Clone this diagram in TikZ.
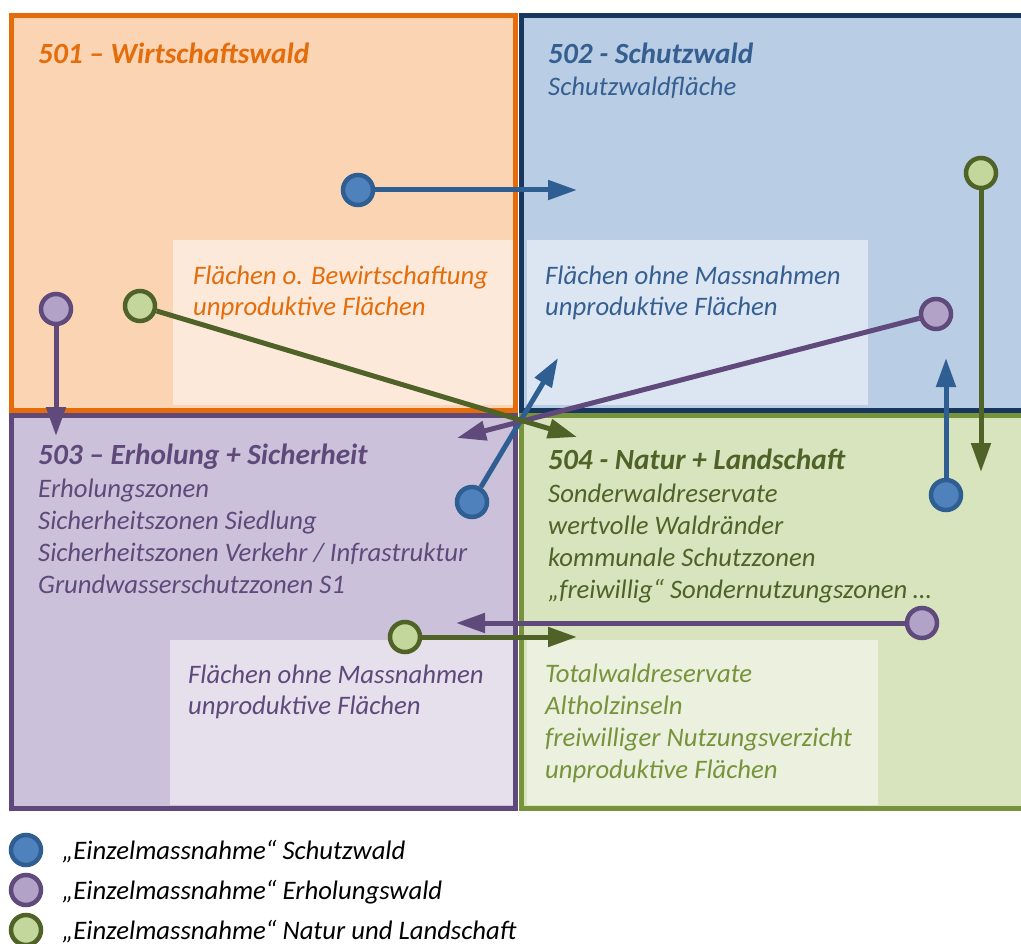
\documentclass[tikz,border=0pt]{standalone}
\usepackage{fontspec}
\setmainfont{Carlito}
\usetikzlibrary{arrows.meta}

\definecolor{orangebord}{RGB}{228,108,10}
\definecolor{orangefond}{RGB}{251,212,180}
\definecolor{bleubord}{RGB}{23,55,94}
\definecolor{bleufond}{RGB}{185,205,229}
\definecolor{bleutexte}{RGB}{54,95,145}
\definecolor{violetbord}{RGB}{95,73,122}
\definecolor{violetfond}{RGB}{204,193,218}
\definecolor{vertbord}{RGB}{119,147,60}
\definecolor{vertfond}{RGB}{215,228,189}
\definecolor{verttexte}{RGB}{79,98,40}
\definecolor{bleutrait}{RGB}{47,94,146}
\definecolor{bleupoint}{RGB}{79,129,189}
\definecolor{violettrait}{RGB}{96,74,123}
\definecolor{violetpoint}{RGB}{179,162,199}
\definecolor{verttrait}{RGB}{79,98,40}
\definecolor{vertpoint}{RGB}{195,214,155}

\begin{document}
\begin{tikzpicture}[x=1pt, y=-1pt]
		% STYLES
		\tikzstyle{cadre} = [line width=5pt]
		\tikzstyle{fondclair} = [fill=white, fill opacity=0.5, draw=none]
		\tikzstyle{titre} = [anchor=base west, inner sep=0pt, font=\fontsize{29.3}{32}\selectfont\bfseries\itshape]
		\tikzstyle{texte} = [anchor=base west, inner sep=0pt, font=\fontsize{26.7}{32}\selectfont\itshape]
		\tikzstyle{point} = [circle, inner sep=0pt, minimum size=30pt, line width=4.5pt]
		\tikzstyle{pointbleu} = [point, draw=bleutrait, fill=bleupoint]
		\tikzstyle{pointviolet} = [point, draw=violettrait, fill=violetpoint]
		\tikzstyle{pointvert} = [point, draw=verttrait, fill=vertpoint]
		\tikzstyle{fleche} = [line width=5pt, -{Triangle[length=29pt,width=19pt]}]

		\useasboundingbox (0,0) rectangle (1021,944);

		% FOND
		\fill[white] (0,0) rectangle (1021,944);

		% ZONES
		\draw[cadre, draw=orangebord, fill=orangefond] (11,16) rectangle (515,410);
		\draw[cadre, draw=bleubord, fill=bleufond] (521,16) rectangle (1025,410);
		\draw[cadre, draw=violetbord, fill=violetfond] (11,415) rectangle (515,808);
		\draw[cadre, draw=vertbord, fill=vertfond] (521,415) rectangle (1025,808);

		% ZONES CLAIRES
		\path[fondclair] (173,240) rectangle (513,405);
		\path[fondclair] (527,240) rectangle (868,405);
		\path[fondclair] (170,640) rectangle (513,805);
		\path[fondclair] (527,640) rectangle (878,805);

		% TEXTES 501
		\node[titre, text=orangebord] (t501) at (38,64) {501 – Wirtschaftswald};
		\node[texte, text=orangebord] (f501a) at (193,285) {Flächen o. Bewirtschaftung};
		\node[texte, text=orangebord] (f501b) at (193,316) {unproduktive Flächen};

		% TEXTES 502
		\node[titre, text=bleutexte] (t502) at (548,64) {502 - Schutzwald};
		\node[texte, text=bleutexte] (s502) at (548,96) {Schutzwaldfläche};
		\node[texte, text=bleutexte] (f502a) at (545,285) {Flächen ohne Massnahmen};
		\node[texte, text=bleutexte] (f502b) at (545,316) {unproduktive Flächen};

		% TEXTES 503
		\node[titre, text=violetbord] (t503) at (38,464) {503 – Erholung + Sicherheit};
		\foreach \t [count=\i from 0] in {Erholungszonen, Sicherheitszonen Siedlung,
				Sicherheitszonen Verkehr / Infrastruktur, Grundwasserschutzzonen S1}
			\node[texte, text=violetbord] (l503-\i) at (38,497+32*\i) {\t};
		\node[texte, text=violetbord] (f503a) at (188,683) {Flächen ohne Massnahmen};
		\node[texte, text=violetbord] (f503b) at (188,714) {unproduktive Flächen};

		% TEXTES 504
		\node[titre, text=verttexte] (t504) at (548,469) {504 - Natur + Landschaft};
		\foreach \t [count=\i from 0] in {Sonderwaldreservate, wertvolle Waldränder,
				kommunale Schutzzonen, „freiwillig“ Sondernutzungszonen …}
			\node[texte, text=verttexte] (l504-\i) at (548,502+32.3*\i) {\t};
		\foreach \t [count=\i from 0] in {Totalwaldreservate, Altholzinseln,
				freiwilliger Nutzungsverzicht, unproduktive Flächen}
			\node[texte, text=vertbord] (f504-\i) at (545,682+32*\i) {\t};

		% POINTS + FLECHES
		\node[pointbleu] (b1) at (358,190) {};
		\node[pointbleu] (b2) at (472,502) {};
		\node[pointbleu] (b3) at (946,495) {};
		\node[pointviolet] (v1) at (56,309) {};
		\node[pointviolet] (v2) at (936,314) {};
		\node[pointviolet] (v3) at (922,623) {};
		\node[pointvert] (g1) at (140,306) {};
		\node[pointvert] (g2) at (981,173) {};
		\node[pointvert] (g3) at (405,637) {};

		\coordinate (b1fin) at (577,190);
		\coordinate (b2fin) at (558,358);
		\coordinate (b3fin) at (946,358);
		\coordinate (v1fin) at (56,436);
		\coordinate (v2fin) at (457,438);
		\coordinate (v3fin) at (456,623);
		\coordinate (g1fin) at (577,437);
		\coordinate (g2fin) at (981,472);
		\coordinate (g3fin) at (577,637);

		\draw[fleche, bleutrait] (b1) -- (b1fin);
		\draw[fleche, bleutrait] (b2) -- (b2fin);
		\draw[fleche, bleutrait] (b3) -- (b3fin);
		\draw[fleche, violettrait] (v1) -- (v1fin);
		\draw[fleche, violettrait] (v2) -- (v2fin);
		\draw[fleche, violettrait] (v3) -- (v3fin);
		\draw[fleche, verttrait] (g1) -- (g1fin);
		\draw[fleche, verttrait] (g2) -- (g2fin);
		\draw[fleche, verttrait] (g3) -- (g3fin);

		% LEGENDE
		\node[pointbleu] (lb) at (26,850) {};
		\node[pointviolet] (lv) at (26,890) {};
		\node[pointvert] (lg) at (26,930) {};
		\node[texte, text=black] (tlb) at (62,859) {„Einzelmassnahme“ Schutzwald};
		\node[texte, text=black] (tlv) at (62,899) {„Einzelmassnahme“ Erholungswald};
		\node[texte, text=black] (tlg) at (62,939) {„Einzelmassnahme“ Natur und Landschaft};

	\end{tikzpicture}
\end{document}
